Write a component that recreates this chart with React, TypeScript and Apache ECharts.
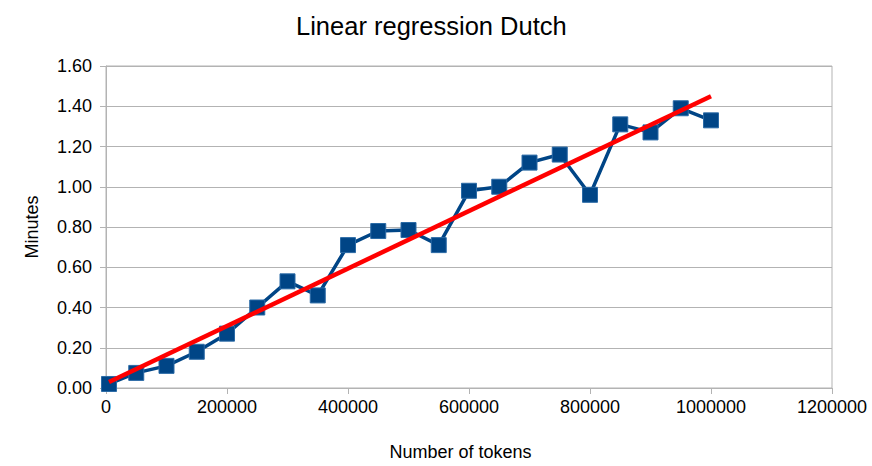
import React, { useEffect, useRef } from "react";
import * as echarts from "echarts";

const tokens = [5000, 50000, 100000, 150000, 200000, 250000, 300000, 350000, 400000, 450000, 500000, 550000, 600000, 650000, 700000, 750000, 800000, 850000, 900000, 950000, 1000000];
const minutes = [0.02, 0.075, 0.11, 0.18, 0.27, 0.40, 0.53, 0.46, 0.71, 0.78, 0.785, 0.71, 0.98, 1.0, 1.12, 1.16, 0.96, 1.31, 1.27, 1.39, 1.33];
const trendX = [5000, 1000000];
const trendY = [0.03, 1.45];
const yTicks = { min: 0, max: 1.6, interval: 0.2 };
const xTicks = { min: 0, max: 1200000, interval: 200000 };

const FONT = "'Liberation Sans', Arial, sans-serif";

export default function App() {
  const ref = useRef<HTMLDivElement>(null);
  useEffect(() => {
    if (!ref.current) return;
    const chart = echarts.init(ref.current, null, { renderer: "svg" });
    chart.setOption({
      animation: false,
      backgroundColor: "#ffffff",
      textStyle: { fontFamily: FONT },
      title: {
        text: "Linear regression Dutch",
        left: 291,
        top: 8,
        textStyle: { fontFamily: FONT, fontSize: 25.5, fontWeight: "normal", color: "#000" },
      },
      grid: {
        left: 106,
        top: 66,
        width: 726,
        height: 324,
        show: true,
        borderColor: "#b3b3b3",
        borderWidth: 1,
        backgroundColor: "transparent",
      },
      xAxis: {
        type: "value",
        min: xTicks.min,
        max: xTicks.max,
        interval: xTicks.interval,
        name: "Number of tokens",
        nameLocation: "middle",
        nameGap: 55,
        nameTextStyle: { fontFamily: FONT, fontSize: 18, color: "#000", padding: [0, 17, 0, 0] },
        axisLine: { show: true, lineStyle: { color: "#b3b3b3", width: 1 } },
        axisTick: { show: true, length: 6, lineStyle: { color: "#b3b3b3" } },
        axisLabel: {
          fontFamily: FONT,
          fontSize: 18,
          color: "#000",
          margin: 10,
          formatter: (v: number) => String(v),
        },
        splitLine: { show: false },
      },
      yAxis: {
        type: "value",
        min: yTicks.min,
        max: yTicks.max,
        interval: yTicks.interval,
        name: "Minutes",
        nameLocation: "middle",
        nameGap: 65,
        nameRotate: 90,
        nameTextStyle: { fontFamily: FONT, fontSize: 18, color: "#000" },
        axisLine: { show: true, lineStyle: { color: "#b3b3b3", width: 1 } },
        axisTick: { show: true, length: 6, lineStyle: { color: "#b3b3b3" } },
        axisLabel: {
          fontFamily: FONT,
          fontSize: 18,
          color: "#000",
          margin: 14,
          formatter: (v: number) => v.toFixed(2),
        },
        splitLine: { show: true, lineStyle: { color: "#b3b3b3", width: 1 } },
      },
      series: [
        {
          type: "line",
          data: tokens.map((t, i) => [t, minutes[i]]),
          symbol: "rect",
          symbolSize: 15,
          showSymbol: true,
          lineStyle: { color: "#004586", width: 3.5 },
          itemStyle: { color: "#004586", borderColor: "#2a6aa6", borderWidth: 1 },
          z: 2,
        },
        {
          type: "line",
          data: trendX.map((t, i) => [t, trendY[i]]),
          symbol: "none",
          lineStyle: { color: "#ff0000", width: 4.5 },
          z: 3,
        },
      ],
    });
    return () => chart.dispose();
  }, []);
  return (
    <div
      ref={ref}
      style={{ position: "fixed", left: 0, top: 0, width: 872, height: 466 }}
    />
  );
}
